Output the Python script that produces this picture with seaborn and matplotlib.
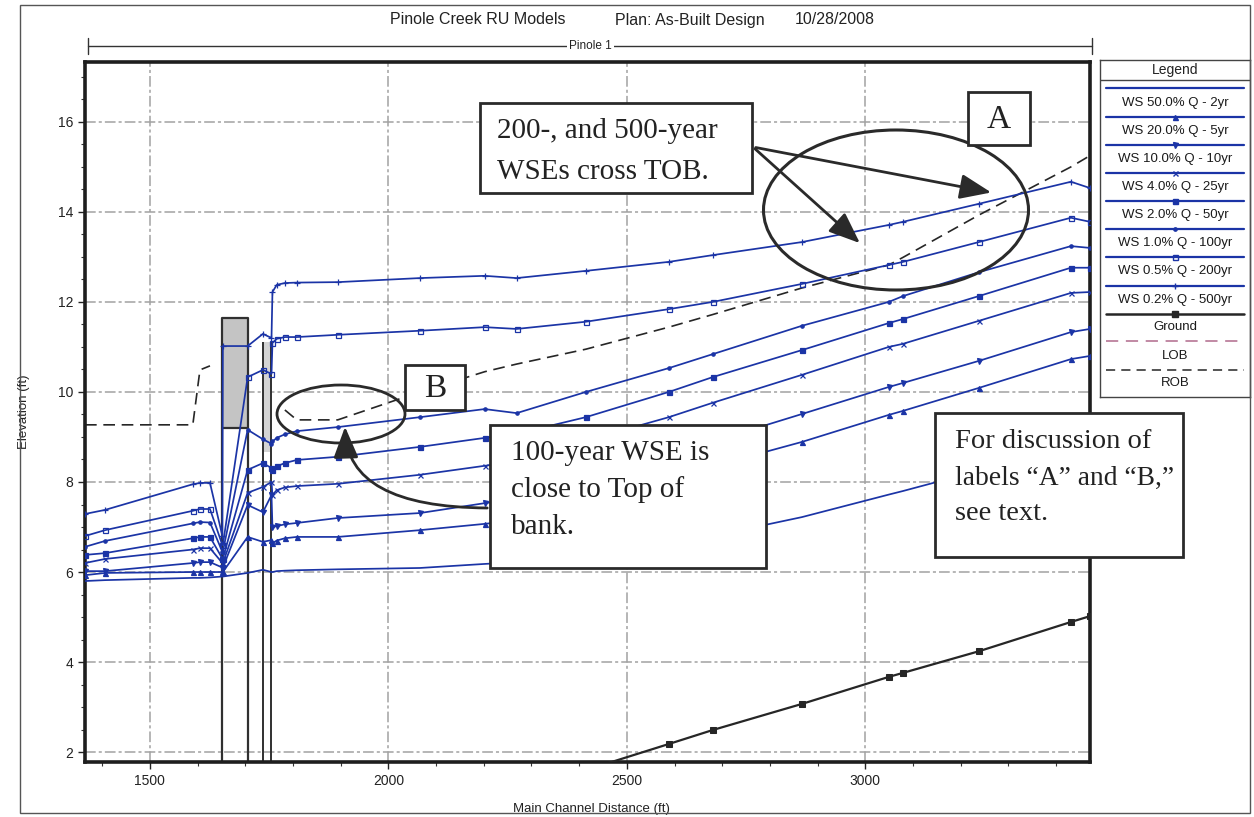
import numpy as np
import matplotlib
matplotlib.use("Agg")
import matplotlib.pyplot as plt
import seaborn as sns
from matplotlib.patches import Rectangle, Ellipse, FancyArrowPatch
from matplotlib.lines import Line2D
from matplotlib.ticker import MultipleLocator

# ---------------- data ----------------
stations = [1364, 1406, 1590, 1605, 1626, 1652, 1653, 1705, 1737, 1755, 1757, 1766,
            1783, 1808, 1894, 2066, 2202, 2269, 2414, 2588, 2680, 2867, 3049, 3079,
            3238, 3431, 3471]

ws_500yr = [7.29, 7.38, 7.95, 7.98, 7.98, 6.80, 11.02, 11.02, 11.29, 11.20, 12.22, 12.38,
            12.42, 12.43, 12.44, 12.53, 12.58, 12.53, 12.69, 12.89, 13.04, 13.33, 13.71, 13.78,
            14.18, 14.67, 14.53]
ws_200yr = [6.80, 6.93, 7.36, 7.40, 7.40, 6.60, 6.60, 10.33, 10.49, 10.40, 11.09, 11.18,
            11.22, 11.22, 11.27, 11.36, 11.44, 11.40, 11.56, 11.84, 12.00, 12.40, 12.82, 12.89,
            13.33, 13.87, 13.78]
ws_100yr = [6.56, 6.69, 7.08, 7.11, 7.10, 6.45, 6.45, 9.16, 8.95, 8.85, 8.90, 8.98,
            9.06, 9.13, 9.22, 9.44, 9.62, 9.53, 10.00, 10.53, 10.84, 11.47, 12.00, 12.13,
            12.66, 13.24, 13.20]
ws_50yr = [6.38, 6.42, 6.75, 6.78, 6.78, 6.30, 6.30, 8.27, 8.42, 8.31, 8.27, 8.35,
           8.42, 8.49, 8.56, 8.78, 8.98, 9.07, 9.44, 10.00, 10.33, 10.93, 11.53, 11.62,
           12.13, 12.76, 12.76]
ws_25yr = [6.20, 6.29, 6.50, 6.53, 6.53, 6.20, 6.20, 7.76, 7.89, 8.00, 7.71, 7.82,
           7.88, 7.91, 7.96, 8.16, 8.36, 8.45, 8.92, 9.44, 9.76, 10.38, 11.00, 11.07,
           11.58, 12.20, 12.22]
ws_10yr = [6.02, 6.02, 6.20, 6.22, 6.22, 6.10, 6.10, 7.49, 7.33, 7.71, 7.00, 7.02,
           7.06, 7.09, 7.20, 7.31, 7.53, 7.62, 8.05, 8.58, 8.90, 9.51, 10.11, 10.20,
           10.69, 11.33, 11.40]
ws_5yr = [5.93, 5.98, 6.00, 6.00, 6.00, 6.00, 6.00, 6.78, 6.67, 6.71, 6.64, 6.70,
          6.75, 6.78, 6.78, 6.93, 7.07, 7.15, 7.50, 8.05, 8.35, 8.89, 9.49, 9.58,
          10.09, 10.73, 10.80]
ws_2yr = [5.80, 5.82, 5.87, 5.87, 5.88, 5.90, 5.90, 5.98, 6.05, 6.00, 6.00, 6.02,
          6.03, 6.04, 6.06, 6.09, 6.18, 6.22, 6.40, 6.62, 6.80, 7.22, 7.72, 7.80,
          8.25, 8.85, 8.95]
ground = [np.nan] * 18 + [1.60, 2.18, 2.49, 3.07, 3.67, 3.76, 4.24, 4.89, 5.02]
rob = [9.27, 9.27, 9.27, 10.49, 10.58, np.nan, np.nan, np.nan, np.nan, np.nan, np.nan, np.nan,
       9.60, 9.38, 9.38, 10.00, 10.45, 10.62, 10.95, 11.44, 11.72, 12.31, 12.82, 12.99,
       13.93, 15.00, 15.25]

bridge_stations = [1651, 1705]
bridge_low_chord = 9.2
bridge_high_chord = 11.65
weir_stations = [1737, 1755]
weir_low = 8.67
weir_high = 11.1

profile_labels = ["WS 50.0% Q - 2yr", "WS 20.0% Q - 5yr", "WS 10.0% Q - 10yr",
                  "WS 4.0% Q - 25yr", "WS 2.0% Q - 50yr", "WS 1.0% Q - 100yr",
                  "WS 0.5% Q - 200yr", "WS 0.2% Q - 500yr"]
profiles = [ws_2yr, ws_5yr, ws_10yr, ws_25yr, ws_50yr, ws_100yr, ws_200yr, ws_500yr]
x_ticks = [1500, 2000, 2500, 3000]
y_ticks = [2, 4, 6, 8, 10, 12, 14, 16]

# ---------------- styles ----------------
BLUE = "#1b34a6"
DARK = "#262626"
prof_style = [
    dict(marker=None, ms=0, mfc=BLUE),
    dict(marker="^", ms=3.6, mfc=BLUE),
    dict(marker="v", ms=3.6, mfc=BLUE),
    dict(marker="x", ms=3.6, mfc=BLUE),
    dict(marker="s", ms=3.6, mfc=BLUE),
    dict(marker="o", ms=2.4, mfc=BLUE),
    dict(marker="s", ms=3.6, mfc="none"),
    dict(marker="+", ms=5.0, mfc=BLUE),
]

W, H = 1254, 817
sns.set_theme(style="white")
plt.rcParams["font.family"] = ["Liberation Sans", "DejaVu Sans"]
fig = plt.figure(figsize=(W / 100, H / 100), dpi=100)
fig.patch.set_facecolor("white")

AX_L, AX_R, AX_T, AX_B = 85, 1090, 62, 762
ax = fig.add_axes([AX_L / W, 1 - AX_B / H, (AX_R - AX_L) / W, (AX_B - AX_T) / H])
ax.set_facecolor("white")
ax.set_xlim(1364, 3471)
ax.set_ylim(1.78, 17.33)

# grid
ax.set_xticks(x_ticks)
ax.set_yticks(y_ticks)
ax.xaxis.set_minor_locator(MultipleLocator(100))
ax.yaxis.set_minor_locator(MultipleLocator(0.5))
ax.grid(True, which="major", color="#a2a2a2", lw=1.1, ls=(0, (7, 2, 2, 2)), zorder=0)

# structures
ax.fill_between(bridge_stations, bridge_low_chord, bridge_high_chord, color="#c4c4c4",
                edgecolor="#303030", lw=1.6, zorder=1)
ax.fill_between(weir_stations, weir_low, weir_high, color="#d4d4d4", lw=0, zorder=1)
ax.vlines(bridge_stations, 1.0, bridge_low_chord, color="#303030", lw=1.6, zorder=1)
ax.vlines(weir_stations, 1.0, weir_high, color="#303030", lw=1.4, zorder=1)

# ROB (bank) line, drawn in contiguous segments
rob_arr = np.array(rob, dtype=float)
st_arr = np.array(stations, dtype=float)
valid = ~np.isnan(rob_arr)
seg_start = None
for i in range(len(rob_arr) + 1):
    ok = i < len(rob_arr) and valid[i]
    if ok and seg_start is None:
        seg_start = i
    if not ok and seg_start is not None:
        sns.lineplot(x=st_arr[seg_start:i], y=rob_arr[seg_start:i], ax=ax, color=DARK,
                     lw=1.2, sort=False, estimator=None, legend=False,
                     dashes=False, zorder=2)
        ax.lines[-1].set_linestyle((0, (7, 4)))
        seg_start = None

# water surfaces
for vals, stl in zip(profiles, prof_style):
    kw = dict(ax=ax, color=BLUE, lw=1.25, sort=False, estimator=None, legend=False, zorder=3)
    if stl["marker"]:
        kw.update(marker=stl["marker"], markersize=stl["ms"], markeredgecolor=BLUE,
                  markerfacecolor=stl["mfc"], markeredgewidth=0.9)
    sns.lineplot(x=stations, y=vals, **kw)

# ground
g = np.array(ground, dtype=float)
m = ~np.isnan(g)
sns.lineplot(x=st_arr[m], y=g[m], ax=ax, color=DARK, lw=1.6, marker="s", markersize=4.5,
             markeredgecolor=DARK, markerfacecolor=DARK, sort=False, estimator=None,
             legend=False, zorder=4)

# axes styling
for sp in ax.spines.values():
    sp.set_visible(True)
    sp.set_linewidth(2.6)
    sp.set_color("#1e1e1e")
ax.tick_params(which="major", direction="out", length=5, width=1, labelsize=10,
               colors="#222", bottom=True, left=True)
ax.tick_params(which="minor", direction="out", length=3, width=0.8, bottom=True, left=True,
               colors="#333")
ax.set_xlabel("Main Channel Distance (ft)", fontsize=9.5, color="#222")
ax.set_ylabel("Elevation (ft)", fontsize=9.5, color="#222")
ax.xaxis.set_label_coords(0.504, -0.058)
ax.yaxis.set_label_coords(-0.055, 0.5)


def fx(px):
    return px / W


def fy(py):
    return 1 - py / H


# title and reach line
fig.text(fx(478), fy(20), "Pinole Creek RU Models", fontsize=11.5, ha="center", va="center", color="#222")
fig.text(fx(690), fy(20), "Plan: As-Built Design", fontsize=11.5, ha="center", va="center", color="#222")
fig.text(fx(835), fy(20), "10/28/2008", fontsize=11.5, ha="center", va="center", color="#222")
fig.add_artist(Line2D([fx(88), fx(1092)], [fy(46), fy(46)], transform=fig.transFigure,
                      color="#333", lw=1.0))
for xe in (88, 1092):
    fig.add_artist(Line2D([fx(xe), fx(xe)], [fy(38), fy(54)], transform=fig.transFigure,
                          color="#333", lw=1.0))
fig.text(fx(590), fy(46), "Pinole 1", fontsize=8.5, ha="center", va="center", color="#222",
         bbox=dict(facecolor="white", edgecolor="none", pad=1.5))

# outer frame
fig.add_artist(Rectangle((fx(20), fy(813)), (1250 - 20) / W, (813 - 5) / H,
                         transform=fig.transFigure, fill=False, ec="#555", lw=1.0))

# ---------------- legend panel ----------------
lax = fig.add_axes([fx(1100), fy(397), 150 / W, (397 - 60) / H])
lax.set_xlim(0, 1)
lax.set_ylim(397, 60)
lax.set_xticks([])
lax.set_yticks([])
for sp in lax.spines.values():
    sp.set_visible(True)
    sp.set_linewidth(1.0)
    sp.set_color("#444")
lax.text(0.5, 70, "Legend", ha="center", va="center", fontsize=10, color="#222")
lax.axhline(80, color="#444", lw=1.0)
line_y = [88, 117, 145, 173, 201, 229, 257, 286, 314, 341, 370]
text_y = [103, 131, 159, 187, 215, 243, 271, 300, 327, 356, 383]
leg_labels = profile_labels + ["Ground", "LOB", "ROB"]
leg_styles = [dict(color=BLUE, lw=1.6, **({"marker": s["marker"], "ms": s["ms"], "mfc": s["mfc"],
                                            "mec": BLUE} if s["marker"] else {}))
              for s in prof_style]
leg_styles += [dict(color=DARK, lw=1.8, marker="s", ms=5, mfc=DARK, mec=DARK),
               dict(color="#b06a8c", lw=1.1, ls=(0, (8, 5))),
               dict(color=DARK, lw=1.1, ls=(0, (6, 4)))]
for ly, ty, lab, st in zip(line_y, text_y, leg_labels, leg_styles):
    h = Line2D([0.04, 0.5, 0.96], [ly, ly, ly], markevery=[1], **st)
    lax.add_line(h)
    lax.text(0.5, ty, lab, ha="center", va="center", fontsize=9.5, color="#1a1a1a")

# ---------------- annotations ----------------
SERIF = ["Liberation Serif", "DejaVu Serif"]
EC = "#2a2a2a"


def box(x0, y0, x1, y1):
    fig.add_artist(Rectangle((fx(x0), fy(y1)), (x1 - x0) / W, (y1 - y0) / H,
                             transform=fig.transFigure, facecolor="white", edgecolor=EC,
                             lw=2.0, zorder=10))


def txt(x, y, s, size=21, ha="left"):
    fig.text(fx(x), fy(y), s, fontsize=size, family=SERIF, ha=ha, va="center",
             color="#222", zorder=11)


def arrow(p0, p1, cs="arc3"):
    fig.add_artist(FancyArrowPatch((fx(p0[0]), fy(p0[1])), (fx(p1[0]), fy(p1[1])),
                                   transform=fig.transFigure, connectionstyle=cs,
                                   arrowstyle="-|>,head_length=0.8,head_width=0.32",
                                   mutation_scale=24, lw=2.0, color=EC, zorder=12))


# ellipses
fig.add_artist(Ellipse((fx(896), fy(210)), 265 / W, 160 / H, transform=fig.transFigure,
                       fill=False, ec=EC, lw=2.2, zorder=9))
fig.add_artist(Ellipse((fx(341), fy(414)), 128 / W, 58 / H, transform=fig.transFigure,
                       fill=False, ec=EC, lw=2.0, zorder=9))

# box 1
box(480, 103, 752, 193)
txt(497, 131, "200-, and 500-year")
txt(497, 172, "WSEs cross TOB.")
arrow((753, 147), (994, 193))
arrow((753, 147), (862, 245))

# box A
box(968, 92, 1030, 145)
txt(999, 120, "A", size=24, ha="center")

# box B
box(405, 365, 465, 410)
txt(435, 389, "B", size=24, ha="center")

# box 100-year
box(490, 425, 766, 568)
txt(511, 453, "100-year WSE is")
txt(511, 490, "close to Top of")
txt(511, 527, "bank.")
arrow((490, 508), (345, 424), cs="angle3,angleA=0,angleB=90")

# discussion box
box(935, 413, 1183, 557)
txt(955, 442, "For discussion of", size=20.5)
txt(955, 478, "labels \u201cA\u201d and \u201cB,\u201d", size=19.8)
txt(955, 514, "see text.", size=20.5)

fig.savefig("out.png", dpi=100, facecolor="white")
